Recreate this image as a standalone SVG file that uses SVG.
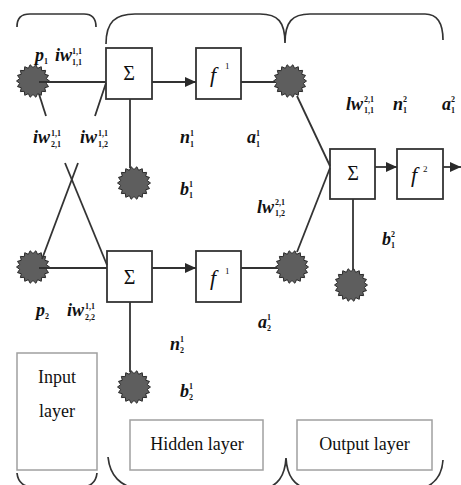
<svg xmlns="http://www.w3.org/2000/svg" width="461" height="485" viewBox="0 0 461 485">
<style>
.box{fill:#fff;stroke:#333;stroke-width:1.8}
.lay{fill:#fff;stroke:#a0a0a0;stroke-width:1.5}
.ln{fill:none;stroke:#333;stroke-width:1.8}
.br{fill:none;stroke:#333;stroke-width:1.7}
.star{fill:#5e5e5e;stroke:#2a2a2a;stroke-width:1}
.lbl{font-family:"Liberation Serif",serif;font-size:18px;font-style:italic;font-weight:bold;fill:#111}
.sm{font-family:"Liberation Serif",serif;font-size:8px;font-weight:bold;fill:#111}
.sig{font-family:"Liberation Serif",serif;font-size:20px;fill:#111;text-anchor:middle}
.fn{font-family:"Liberation Serif",serif;font-size:22px;font-style:italic;fill:#111}
.fs{font-family:"Liberation Serif",serif;font-size:9px;fill:#111}
.lt{font-family:"Liberation Serif",serif;font-size:18px;fill:#111;text-anchor:middle}
</style>
<defs>
<polygon id="st" class="star" points="16.5,0 13.29,2.34 15.51,5.64 11.69,6.75 12.64,10.61 8.68,10.34 8.25,14.29 4.62,12.69 2.86,16.25 0,13.5 -2.86,16.25 -4.62,12.69 -8.25,14.29 -8.68,10.34 -12.64,10.61 -11.69,6.75 -15.51,5.64 -13.29,2.34 -16.5,0 -13.29,-2.34 -15.51,-5.64 -11.69,-6.75 -12.64,-10.61 -8.68,-10.34 -8.25,-14.29 -4.62,-12.69 -2.86,-16.25 0,-13.5 2.86,-16.25 4.62,-12.69 8.25,-14.29 8.68,-10.34 12.64,-10.61 11.69,-6.75 15.51,-5.64 13.29,-2.34"/>
<marker id="ah" markerWidth="11" markerHeight="10" refX="11" refY="5" orient="auto" markerUnits="userSpaceOnUse">
<path d="M0,0 L11,5 L0,10 Z" fill="#2a2a2a"/>
</marker>
</defs>

<!-- braces -->
<g id="braces">
<path class="br" d="M17,27 C17,18 21,14 30,14 L84,14 C92,14 96,18 96,27"/>
<path class="br" d="M106,44 C106,22 115,14 135,14 L260,14 C278,14 285,22 285,43 C285,22 292,14 310,14 L425,14 C437,14 443,22 443,40"/>
<path class="br" d="M17,473 C18,483 24,487 36,488 L78,488 C90,487 96,483 97,473"/>
<path class="br" d="M108,457 C110,476 120,486 140,490 L262,490 C278,486 285,476 286,458 C287,476 294,486 310,490 L418,490 C434,486 442,476 443,460"/>
</g>

<!-- nodes -->
<g id="p1"><use href="#st" x="33" y="81"/></g>
<g id="p2"><use href="#st" x="33" y="267"/></g>
<g id="b11"><use href="#st" x="134" y="183"/></g>
<g id="b21"><use href="#st" x="134" y="387"/></g>
<g id="a11"><use href="#st" x="290" y="81"/></g>
<g id="a21"><use href="#st" x="292" y="267"/></g>
<g id="b12"><use href="#st" x="351" y="285"/></g>

<g id="sum1"><rect class="box" x="106" y="48" width="46" height="51"/><text class="sig" x="129" y="80">Σ</text></g>
<g id="sum2"><rect class="box" x="107" y="251" width="45" height="51"/><text class="sig" x="129.5" y="284">Σ</text></g>
<g id="f11"><rect class="box" x="196" y="48" width="45" height="51"/><text class="fn" x="210" y="82">f</text><text class="fs" x="225" y="69">1</text></g>
<g id="f12"><rect class="box" x="196" y="251" width="45" height="51"/><text class="fn" x="210" y="285">f</text><text class="fs" x="225" y="274">1</text></g>
<g id="sum3"><rect class="box" x="330" y="149" width="45" height="50"/><text class="sig" x="353" y="180">Σ</text></g>
<g id="f2"><rect class="box" x="397" y="149" width="46" height="50"/><text class="fn" x="411" y="182">f</text><text class="fs" x="423" y="172">2</text></g>

<!-- connectors -->
<g id="connectors">
<line class="ln" x1="39" y1="82" x2="106" y2="82"/>
<line class="ln" x1="39" y1="268" x2="107" y2="268"/>
<line class="ln" x1="39" y1="94" x2="46" y2="116"/>
<line class="ln" x1="65" y1="163" x2="107" y2="265"/>
<line class="ln" x1="106" y1="83" x2="95" y2="116"/>
<line class="ln" x1="78" y1="163" x2="42" y2="259"/>
<line class="ln" x1="152" y1="82" x2="196" y2="82" marker-end="url(#ah)"/>
<line class="ln" x1="152" y1="268" x2="196" y2="268" marker-end="url(#ah)"/>
<line class="ln" x1="241" y1="82" x2="275" y2="82"/>
<line class="ln" x1="241" y1="268" x2="277" y2="268"/>
<line class="ln" x1="130" y1="99" x2="130" y2="168"/>
<line class="ln" x1="130" y1="302" x2="130" y2="372"/>
<line class="ln" x1="297" y1="96" x2="330" y2="166"/>
<line class="ln" x1="297" y1="252" x2="330" y2="168"/>
<line class="ln" x1="353" y1="199" x2="353" y2="270"/>
<line class="ln" x1="375" y1="167" x2="397" y2="167" marker-end="url(#ah)"/>
<line class="ln" x1="443" y1="167" x2="461" y2="167" marker-end="url(#ah)"/>
</g>

<!-- labels -->
<g id="labels">
<text class="lbl" x="35" y="61">p</text><text class="sm" x="44" y="64">1</text>
<text class="lbl" x="55" y="61">iw</text><text class="sm" x="72" y="54">1,1</text><text class="sm" x="72" y="65">1,1</text>
<text class="lbl" x="33" y="143">iw</text><text class="sm" x="51" y="136">1,1</text><text class="sm" x="51" y="147">2,1</text>
<text class="lbl" x="80" y="143">iw</text><text class="sm" x="98" y="136">1,1</text><text class="sm" x="98" y="147">1,2</text>
<text class="lbl" x="180" y="143">n</text><text class="sm" x="190" y="136">1</text><text class="sm" x="190" y="147">1</text>
<text class="lbl" x="247" y="143">a</text><text class="sm" x="256" y="136">1</text><text class="sm" x="256" y="147">1</text>
<text class="lbl" x="180" y="195">b</text><text class="sm" x="189" y="187">1</text><text class="sm" x="189" y="198">1</text>
<text class="lbl" x="346" y="110">lw</text><text class="sm" x="364" y="102">2,1</text><text class="sm" x="364" y="113">1,1</text>
<text class="lbl" x="393" y="110">n</text><text class="sm" x="403" y="102">2</text><text class="sm" x="403" y="113">1</text>
<text class="lbl" x="442" y="110">a</text><text class="sm" x="451" y="102">2</text><text class="sm" x="451" y="113">1</text>
<text class="lbl" x="257" y="213">lw</text><text class="sm" x="275" y="205">2,1</text><text class="sm" x="275" y="216">1,2</text>
<text class="lbl" x="382" y="245">b</text><text class="sm" x="391" y="237">2</text><text class="sm" x="391" y="248">1</text>
<text class="lbl" x="36" y="316">p</text><text class="sm" x="45" y="319">2</text>
<text class="lbl" x="67" y="316">iw</text><text class="sm" x="85" y="309">1,1</text><text class="sm" x="85" y="320">2,2</text>
<text class="lbl" x="258" y="328">a</text><text class="sm" x="267" y="320">1</text><text class="sm" x="267" y="331">2</text>
<text class="lbl" x="170" y="350">n</text><text class="sm" x="180" y="342">1</text><text class="sm" x="180" y="353">2</text>
<text class="lbl" x="180" y="397">b</text><text class="sm" x="189" y="389">1</text><text class="sm" x="189" y="400">2</text>
</g>

<!-- layer boxes -->
<g id="input-layer"><rect class="lay" x="17" y="353" width="80" height="117"/><text class="lt" x="57" y="383">Input</text><text class="lt" x="57" y="417">layer</text></g>
<g id="hidden-layer"><rect class="lay" x="130" y="420" width="133" height="50"/><text class="lt" x="197" y="450">Hidden layer</text></g>
<g id="output-layer"><rect class="lay" x="297" y="420" width="135" height="50"/><text class="lt" x="364.5" y="450">Output layer</text></g>
</svg>
